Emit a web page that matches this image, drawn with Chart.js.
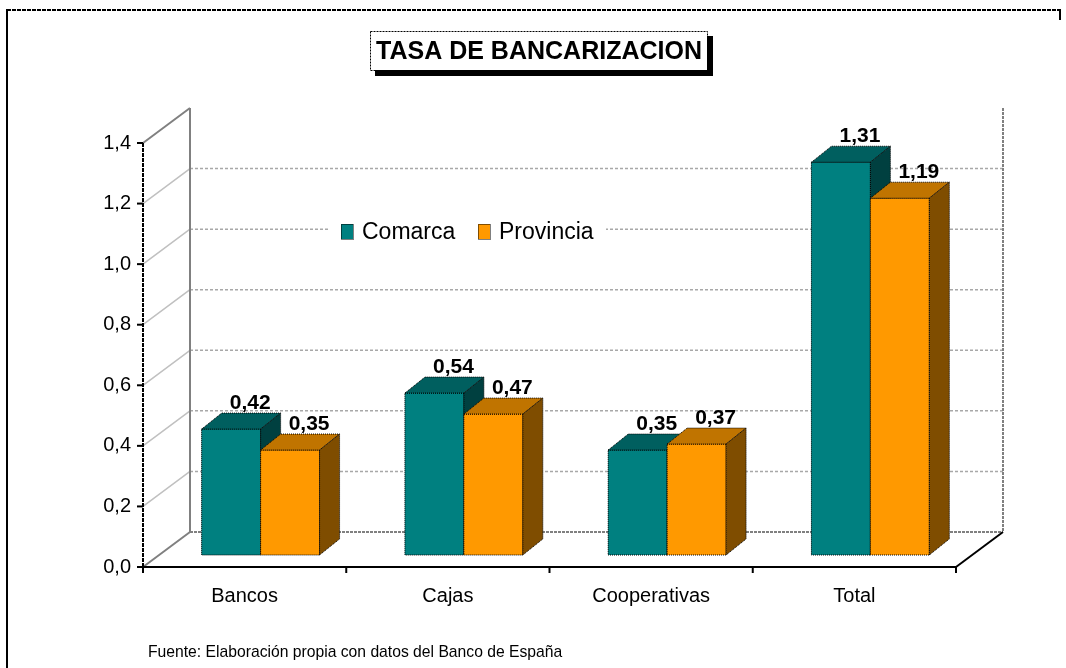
<!DOCTYPE html>
<html>
<head>
<meta charset="utf-8">
<script src="https://cdn.jsdelivr.net/npm/chart.js@4.4.0/dist/chart.umd.min.js"></script>
<style>
  html, body { margin: 0; padding: 0; background: #fff; }
</style>
</head>
<body>
<canvas id="chart" width="1066" height="668"></canvas>
<script>
const categories = ["Bancos", "Cajas", "Cooperativas", "Total"];
const seriesNames = ["Comarca", "Provincia"];
const comarca = [0.42, 0.54, 0.35, 1.31];
const provincia = [0.35, 0.47, 0.37, 1.19];
const yMax = 1.4;
const yStep = 0.2;

const FONT = "'Liberation Sans', Arial, sans-serif";
const fronts = ["#008080", "#FF9900"];
const tops = ["#005F5F", "#C07400"];
const sides = ["#004040", "#7F4D00"];

// 3D offsets
const wall = { dx: 47, dy: -35 };
const shift = { dx: 16, dy: -12 };
const depth = { dx: 20, dy: -16 };
const barScale = 0.99; // bar plane sits a bit further back than the axis

const comma = (v, d) => v.toFixed(d).replace(".", ",");

function poly(ctx, pts, fill, stroke, dash) {
  ctx.beginPath();
  pts.forEach((p, i) => (i ? ctx.lineTo(p[0], p[1]) : ctx.moveTo(p[0], p[1])));
  ctx.closePath();
  if (fill) { ctx.fillStyle = fill; ctx.fill(); }
  if (stroke) {
    ctx.strokeStyle = stroke;
    ctx.lineWidth = 1;
    ctx.setLineDash(dash || []);
    ctx.stroke();
    ctx.setLineDash([]);
  }
}

function line(ctx, x1, y1, x2, y2, color, width, dash) {
  ctx.beginPath();
  ctx.moveTo(x1, y1);
  ctx.lineTo(x2, y2);
  ctx.strokeStyle = color;
  ctx.lineWidth = width;
  ctx.setLineDash(dash || []);
  ctx.stroke();
  ctx.setLineDash([]);
}

// map a point of the front plane into the bar plane
function toBar(chart, x, y) {
  const y0 = chart.scales.y.getPixelForValue(0);
  return [x + shift.dx, y0 + shift.dy + (y - y0) * barScale];
}

const box3d = {
  id: "box3d",
  beforeDraw(chart) {
    const ctx = chart.ctx;
    ctx.save();
    // outer frame
    line(ctx, 7, 10, 1060, 10, "#000", 2, [4, 1]);
    line(ctx, 7, 9, 7, 668, "#000", 2);
    line(ctx, 1060, 9, 1060, 20, "#000", 2);
    ctx.restore();
  },
  beforeDatasetsDraw(chart) {
    const { ctx, chartArea: a, scales: { y } } = chart;
    const y0 = y.getPixelForValue(0);
    const yTop = y.getPixelForValue(yMax);
    ctx.save();
    // gridlines
    y.ticks.forEach(t => {
      const py = y.getPixelForValue(t.value);
      if (t.value > 0 && t.value < yMax - 1e-6) {
        line(ctx, a.left, py, a.left + wall.dx, py + wall.dy, "#C0C0C0", 1.5);
        line(ctx, a.left + wall.dx, py + wall.dy, a.right + wall.dx, py + wall.dy, "#A8A8A8", 1.5, [3, 2]);
      }
    });
    // wall edges
    line(ctx, a.left, yTop, a.left + wall.dx, yTop + wall.dy, "#808080", 2);
    line(ctx, a.left + wall.dx, yTop + wall.dy, a.left + wall.dx, y0 + wall.dy, "#808080", 2);
    line(ctx, a.right + wall.dx, yTop + wall.dy, a.right + wall.dx, y0 + wall.dy, "#808080", 2, [3, 1]);
    line(ctx, a.left, y0, a.left + wall.dx, y0 + wall.dy, "#808080", 2);
    line(ctx, a.left + wall.dx, y0 + wall.dy, a.right + wall.dx, y0 + wall.dy, "#808080", 2, [3, 1]);
    // floor front and right edge
    line(ctx, a.left, y0, a.right, y0, "#000", 2);
    line(ctx, a.right, y0, a.right + wall.dx, y0 + wall.dy, "#000", 2);
    // y axis with ticks
    line(ctx, a.left, yTop, a.left, y0, "#000", 2, [4, 1]);
    y.ticks.forEach(t => {
      const py = y.getPixelForValue(t.value);
      line(ctx, a.left - 6, py, a.left, py, "#000", 2);
    });
    // x ticks at category boundaries
    const n = categories.length;
    for (let i = 0; i <= n; i++) {
      const px = a.left + (i * (a.right - a.left)) / n;
      line(ctx, px, y0, px, y0 + 6, "#000", 2);
    }
    // legend
    ctx.fillStyle = "#fff";
    ctx.fillRect(330, 219, 276, 28);
    ctx.font = "23px " + FONT;
    ctx.textBaseline = "middle";
    ctx.textAlign = "left";
    const legendX = [341, 478];
    chart.data.datasets.forEach((ds, i) => {
      const lx = legendX[i];
      ctx.fillStyle = fronts[i];
      ctx.fillRect(lx, 224, 12, 15);
      ctx.strokeStyle = "#000";
      ctx.lineWidth = 1;
      ctx.setLineDash([1, 1]);
      ctx.strokeRect(lx + 0.5, 224.5, 12, 15);
      ctx.setLineDash([]);
      ctx.fillStyle = "#000";
      ctx.fillText(ds.label, lx + 21, 233);
    });
    ctx.restore();
    // the library's bars are drawn in the bar plane
    ctx.save();
    ctx.translate(shift.dx, shift.dy + y0 * (1 - barScale));
    ctx.scale(1, barScale);
  },
  afterDatasetsDraw(chart) {
    const ctx = chart.ctx;
    ctx.restore();
    const metas = [chart.getDatasetMeta(0), chart.getDatasetMeta(1)];
    const dash = [1, 1];
    ctx.save();
    for (let c = 0; c < categories.length; c++) {
      metas.forEach((meta, d) => {
        const el = meta.data[c];
        const [L, T] = toBar(chart, el.x - el.width / 2, el.y);
        const [R, B] = toBar(chart, el.x + el.width / 2, el.base);
        poly(ctx, [[L, T], [R, T], [R, B], [L, B]], fronts[d], "#000", dash);
        poly(ctx, [[L, T], [L + depth.dx, T + depth.dy], [R + depth.dx, T + depth.dy], [R, T]], tops[d], "#000", dash);
        poly(ctx, [[R, T], [R + depth.dx, T + depth.dy], [R + depth.dx, B + depth.dy], [R, B]], sides[d], "#000", dash);
      });
    }
    ctx.font = "bold 21px " + FONT;
    ctx.fillStyle = "#000";
    ctx.textAlign = "center";
    ctx.textBaseline = "middle";
    metas.forEach((meta, d) => {
      const vals = chart.data.datasets[d].data;
      meta.data.forEach((el, i) => {
        const [cx, top] = toBar(chart, el.x, el.y);
        ctx.fillText(comma(vals[i], 2), cx + 19, top - 26);
      });
    });
    ctx.restore();
  },
  afterDraw(chart) {
    const ctx = chart.ctx;
    ctx.save();
    // title box with shadow
    ctx.fillStyle = "#000";
    ctx.fillRect(375, 36, 338, 40);
    ctx.fillStyle = "#fff";
    ctx.fillRect(370, 31, 337, 39);
    ctx.strokeStyle = "#000";
    ctx.lineWidth = 1;
    ctx.setLineDash([2, 1]);
    ctx.strokeRect(370.5, 31.5, 337, 39);
    ctx.setLineDash([]);
    ctx.fillStyle = "#000";
    ctx.font = "bold 25px " + FONT;
    ctx.textAlign = "center";
    ctx.textBaseline = "middle";
    ctx.fillText("TASA DE BANCARIZACION", 539, 52);
    // source
    ctx.font = "15.7px " + FONT;
    ctx.textAlign = "left";
    ctx.fillText("Fuente: Elaboración propia con datos del Banco de España", 148, 653);
    ctx.restore();
  }
};

new Chart(document.getElementById("chart"), {
  type: "bar",
  data: {
    labels: categories,
    datasets: [
      { label: seriesNames[0], data: comarca, backgroundColor: fronts[0], borderWidth: 0 },
      { label: seriesNames[1], data: provincia, backgroundColor: fronts[1], borderWidth: 0 },
    ],
  },
  options: {
    responsive: false,
    animation: false,
    layout: { padding: { top: 143, right: 110, bottom: 0, left: 0 } },
    datasets: { bar: { categoryPercentage: 0.58, barPercentage: 1.0 } },
    plugins: { legend: { display: false }, tooltip: { enabled: false } },
    scales: {
      x: {
        grid: { display: false, drawTicks: false },
        border: { display: false },
        ticks: { color: "#000", font: { family: FONT, size: 20 }, padding: 17 },
        afterFit: s => { s.height = 101; },
      },
      y: {
        min: 0,
        max: yMax,
        grid: { display: false, drawTicks: false },
        border: { display: false },
        ticks: {
          stepSize: yStep,
          color: "#000",
          font: { family: FONT, size: 20 },
          padding: 12,
          callback: v => comma(v, 1),
        },
        afterFit: s => { s.width = 143; },
      },
    },
  },
  plugins: [box3d],
});
</script>
</body>
</html>
